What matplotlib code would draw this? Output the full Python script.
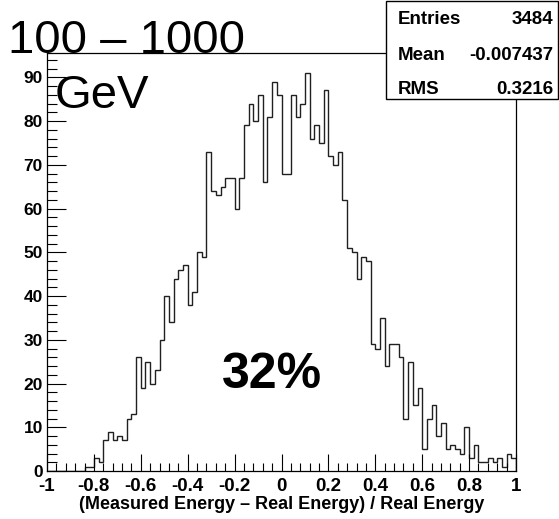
import numpy as np
import matplotlib
matplotlib.use("Agg")
import matplotlib.pyplot as plt
from matplotlib.patches import Rectangle
from matplotlib.ticker import FixedLocator, FixedFormatter, MultipleLocator

plt.rcParams['font.family'] = ['Liberation Sans', 'DejaVu Sans']

# 100 bins between -1 and 1
bin_edges = np.linspace(-1, 1, 101)
counts = [0, 0, 0, 0, 0, 0, 0, 0, 1, 1,
          3, 2, 7, 9, 7, 8, 7, 12, 13, 26,
          19, 25, 20, 23, 30, 40, 34, 44, 46, 47,
          38, 41, 50, 49, 73, 64, 63, 65, 67, 67,
          60, 67, 79, 84, 80, 86, 66, 81, 89, 86,
          68, 68, 86, 81, 84, 91, 76, 79, 75, 87,
          72, 70, 73, 62, 51, 50, 44, 49, 48, 29,
          28, 35, 24, 29, 29, 26, 12, 25, 15, 19,
          5, 12, 15, 8, 11, 5, 6, 5, 4, 10,
          3, 6, 2, 2, 3, 2, 3, 1, 4, 3]

x_ticks = [-1, -0.8, -0.6, -0.4, -0.2, 0, 0.2, 0.4, 0.6, 0.8, 1]
x_tick_labels = ["-1", "-0.8", "-0.6", "-0.4", "-0.2", "0", "0.2", "0.4", "0.6", "0.8", "1"]
y_ticks = [0, 10, 20, 30, 40, 50, 60, 70, 80, 90]

stats_names = ["Entries", "Mean", "RMS"]
stats_values = ["3484", "-0.007437", "0.3216"]

W, H = 559, 519
fig = plt.figure(figsize=(W / 100, H / 100), dpi=100)
ax = fig.add_axes([47 / W, 1 - 471 / H, (516 - 47) / W, (471 - 53) / H])

ax.stairs(counts, bin_edges, color='#202020', linewidth=1.0)

ax.set_xlim(-1, 1)
ax.set_ylim(0, 1.05 * max(counts))

ax.xaxis.set_major_locator(FixedLocator(x_ticks))
ax.xaxis.set_major_formatter(FixedFormatter(x_tick_labels))
ax.xaxis.set_minor_locator(MultipleLocator(0.04))
ax.yaxis.set_major_locator(FixedLocator(y_ticks))
ax.yaxis.set_minor_locator(MultipleLocator(2))

ax.tick_params(axis='both', which='both', direction='in', top=False, right=False, width=0.8)
ax.tick_params(axis='x', which='major', length=12, pad=5)
ax.tick_params(axis='x', which='minor', length=6)
ax.tick_params(axis='y', which='major', length=14, pad=3)
ax.tick_params(axis='y', which='minor', length=7)
for lab in ax.get_xticklabels():
    lab.set_fontweight('bold')
    lab.set_fontsize(13.5)
for lab in ax.get_yticklabels():
    lab.set_fontweight('bold')
    lab.set_fontsize(12.5)

for sp in ax.spines.values():
    sp.set_linewidth(0.9)

ax.set_xlabel("(Measured Energy \u2013 Real Energy) / Real Energy",
              fontsize=13, fontweight='bold', labelpad=1)

# big labels
fig.text(8 / W, 1 - 53 / H, "100 \u2013 1000", fontsize=34, ha='left', va='baseline')
fig.text(55 / W, 1 - 108 / H, "GeV", fontsize=34, ha='left', va='baseline')
ax.text(222 / W, 1 - 388 / H, "32%", fontsize=36, fontweight='bold',
        ha='left', va='baseline', transform=fig.transFigure)

# stats box
bx0, bx1, by0, by1 = 386, 558, 1, 99
fig.patches.append(Rectangle((bx0 / W, 1 - by1 / H), (bx1 - bx0) / W, (by1 - by0) / H,
                             transform=fig.transFigure, facecolor='white',
                             edgecolor='black', linewidth=1.0, zorder=5))
row_y = [20, 55, 89]
for name, val, yy in zip(stats_names, stats_values, row_y):
    fig.text(398 / W, 1 - yy / H, name, fontsize=13.5, fontweight='bold',
             ha='left', va='center', zorder=6)
    fig.text(553 / W, 1 - yy / H, val, fontsize=13.5, fontweight='bold',
             ha='right', va='center', zorder=6)

fig.savefig("out.png", dpi=100)
